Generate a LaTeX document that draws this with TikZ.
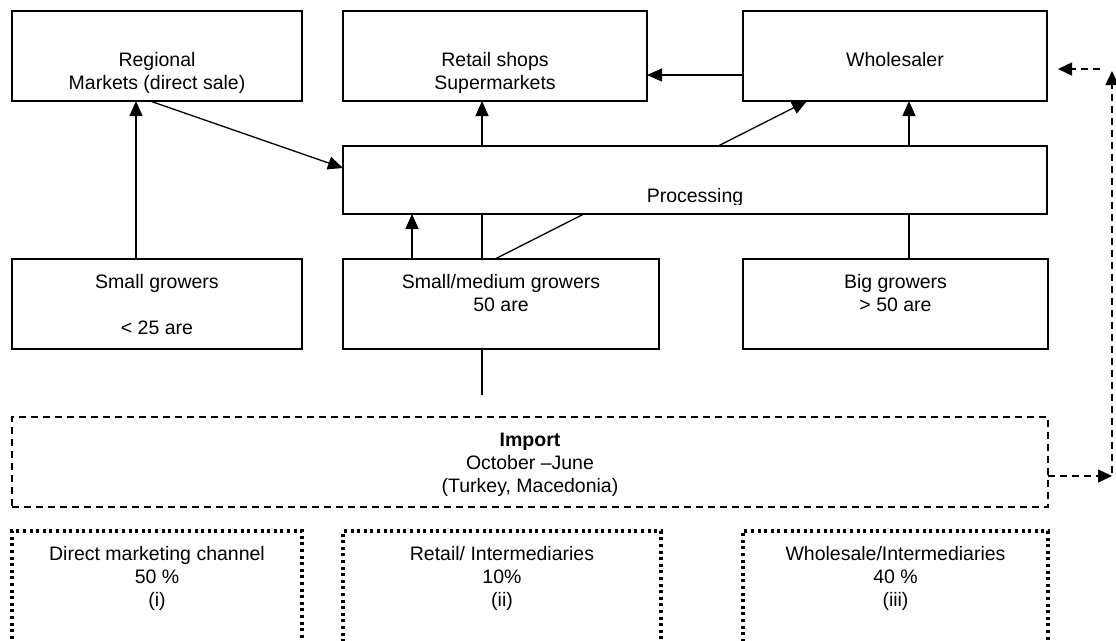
\documentclass[tikz,border=0pt]{standalone}
\usepackage{fontspec}
\setmainfont{Liberation Sans}
\usetikzlibrary{arrows.meta}
\newcommand{\lines}[1]{\begin{tabular}[t]{@{}c@{}}#1\end{tabular}}
\begin{document}
\begin{tikzpicture}[x=1pt,y=-1pt,
  font=\fontsize{19.5}{23}\selectfont,
  box/.style={draw,line width=1.3pt,fill=white,inner sep=0pt,outer sep=0pt},
  dashbox/.style={draw,line width=1.3pt,dash pattern=on 7pt off 5pt,inner sep=0pt,outer sep=0pt},
  dotbox/.style={draw,line width=3.2pt,dash pattern=on 3pt off 3.6pt,inner sep=0pt,outer sep=0pt},
  lbl/.style={inner sep=0pt,anchor=base},
  conn/.style={line width=1.3pt},
  arr/.style={conn,-{Triangle[length=15pt,width=13pt]}},
  darr/.style={line width=1.4pt,dash pattern=on 7pt off 5pt,-{Triangle[length=14pt,width=13pt]}}]
\clip (0,0) rectangle (1116,640);
\fill[white] (0,0) rectangle (1116,640);

% boxes
\node[box,minimum width=290pt,minimum height=90pt] (reg) at (157,56) {};
\node[box,minimum width=304pt,minimum height=90pt] (ret) at (495,56) {};
\node[box,minimum width=304pt,minimum height=90pt] (who) at (895,56) {};
\node[box,minimum width=290pt,minimum height=90pt] (sg) at (157,304) {};
\node[box,minimum width=316pt,minimum height=90pt] (smg) at (501,304) {};
\node[box,minimum width=305pt,minimum height=90pt] (bg) at (895.5,304) {};

% connectors passing behind Processing
\draw[arr] ([xshift=-19pt]smg.north) -- ([xshift=-13pt]ret.south);
\draw[arr] ([xshift=-6pt]smg.north) -- ([xshift=-88pt]who.south);
\draw[arr] ([xshift=13.5pt]bg.north) -- ([xshift=14pt]who.south);

\node[box,minimum width=704pt,minimum height=68pt] (proc) at (695,180) {};

% other connectors
\draw[arr] ([xshift=-21pt]sg.north) -- ([xshift=-21pt]reg.south);
\draw[arr] ([xshift=-7pt]reg.south) -- ([yshift=12pt]proc.west);
\draw[arr] ([xshift=-89pt]smg.north) -- ([xshift=-283pt]proc.south);
\draw[arr] ([yshift=-19pt]who.west) -- ([yshift=-19pt]ret.east);

\coordinate (stub) at (482,395);
\draw[conn] ([xshift=-19pt]smg.south) -- (stub);

% import
\node[dashbox,minimum width=1036pt,minimum height=90pt] (imp) at (530,462) {};
\coordinate (rb) at (1112,476);
\coordinate (rv) at (1112,473);
\coordinate (rt) at (1112,71);
\coordinate (hs) at (1100,69);
\coordinate (he) at (1058,69);
\draw[darr] ([yshift=-14pt]imp.east) -- (rb);
\draw[darr] (rv) -- (rt);
\draw[darr] (hs) -- (he);

% channel boxes
\node[dotbox,minimum width=290pt,minimum height=160pt,anchor=north] (d1) at (157,531) {};
\node[dotbox,minimum width=318pt,minimum height=160pt,anchor=north] (d2) at (502,531) {};
\node[dotbox,minimum width=305pt,minimum height=160pt,anchor=north] (d3) at (895.5,531) {};

% texts
\node[lbl] (tReg) at (157,66.7) {\lines{Regional\\Markets (direct sale)}};
\node[lbl] (tRet) at (495,66.7) {\lines{Retail shops\\Supermarkets}};
\node[lbl] (tWho) at (895,66.7) {Wholesaler};
\begin{scope}
\clip (343,146) rectangle (1047,204.5);
\node[lbl] (tProc) at (695,202) {Processing};
\end{scope}
\node[lbl] (tSg) at (157,288.3) {\lines{Small growers\\ \\ < 25 are}};
\node[lbl] (tSmg) at (501,288.3) {\lines{Small/medium growers\\50 are}};
\node[lbl] (tBg) at (895.5,288.3) {\lines{Big growers\\> 50 are}};
\node[lbl] (tImp) at (530,446.7) {\lines{\textbf{Import}\\October –June\\(Turkey, Macedonia)}};
\node[lbl] (tD1) at (157,560.7) {\lines{Direct marketing channel\\50 \%\\(i)}};
\node[lbl] (tD2) at (502,560.7) {\lines{Retail/ Intermediaries\\10\%\\(ii)}};
\node[lbl] (tD3) at (895.5,560.7) {\lines{Wholesale/Intermediaries\\40 \%\\(iii)}};
\end{tikzpicture}
\end{document}
